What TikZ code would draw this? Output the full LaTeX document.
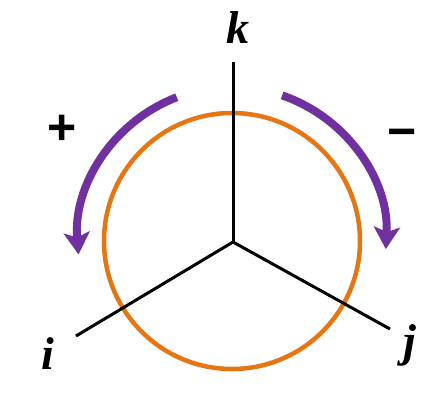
\documentclass[tikz,border=0pt]{standalone}
\usepackage{fontspec}
\setmainfont{Liberation Serif}
\newfontfamily\signfont{Liberation Sans}
\usetikzlibrary{arrows.meta}
\definecolor{circorange}{RGB}{230,118,20}
\definecolor{arcpurple}{RGB}{112,48,160}
\begin{document}
\begin{tikzpicture}[x=1pt,y=-1pt,
  axis/.style={line width=3pt,black},
  ring/.style={line width=4.5pt,circorange},
  turn/.style={line width=8pt,arcpurple,-{Stealth[length=22pt,width=26pt,inset=5pt]}},
  lbl/.style={font=\fontsize{46}{46}\selectfont\bfseries\itshape,inner sep=0pt},
  sign/.style={font=\signfont\fontsize{50}{50}\selectfont\bfseries,inner sep=0pt}]
\useasboundingbox (0,0) rectangle (425,397);
\coordinate (o) at (233,242);
\coordinate (ek) at (233,62);
\coordinate (ei) at (76,336);
\coordinate (ej) at (390,329);
\draw[ring] (232,241) circle[radius=128];
\draw[axis] (o) -- (ek);
\draw[axis] (o) -- (ei);
\draw[axis] (o) -- (ej);
\draw[turn] (232,241) ++(-111:154) arc[start angle=-111,end angle=-185,radius=154];
\draw[turn] (232,241) ++(-71:154) arc[start angle=-71,end angle=3,radius=154];
\node[lbl] (k) at (238,28) {k};
\node[lbl] (i) at (48,354) {i};
\node[lbl] (j) at (410,345) {j};
\node[sign] (plus) at (62,130) {+};
\node[sign] (minus) at (402,139) {−};
\end{tikzpicture}
\end{document}
